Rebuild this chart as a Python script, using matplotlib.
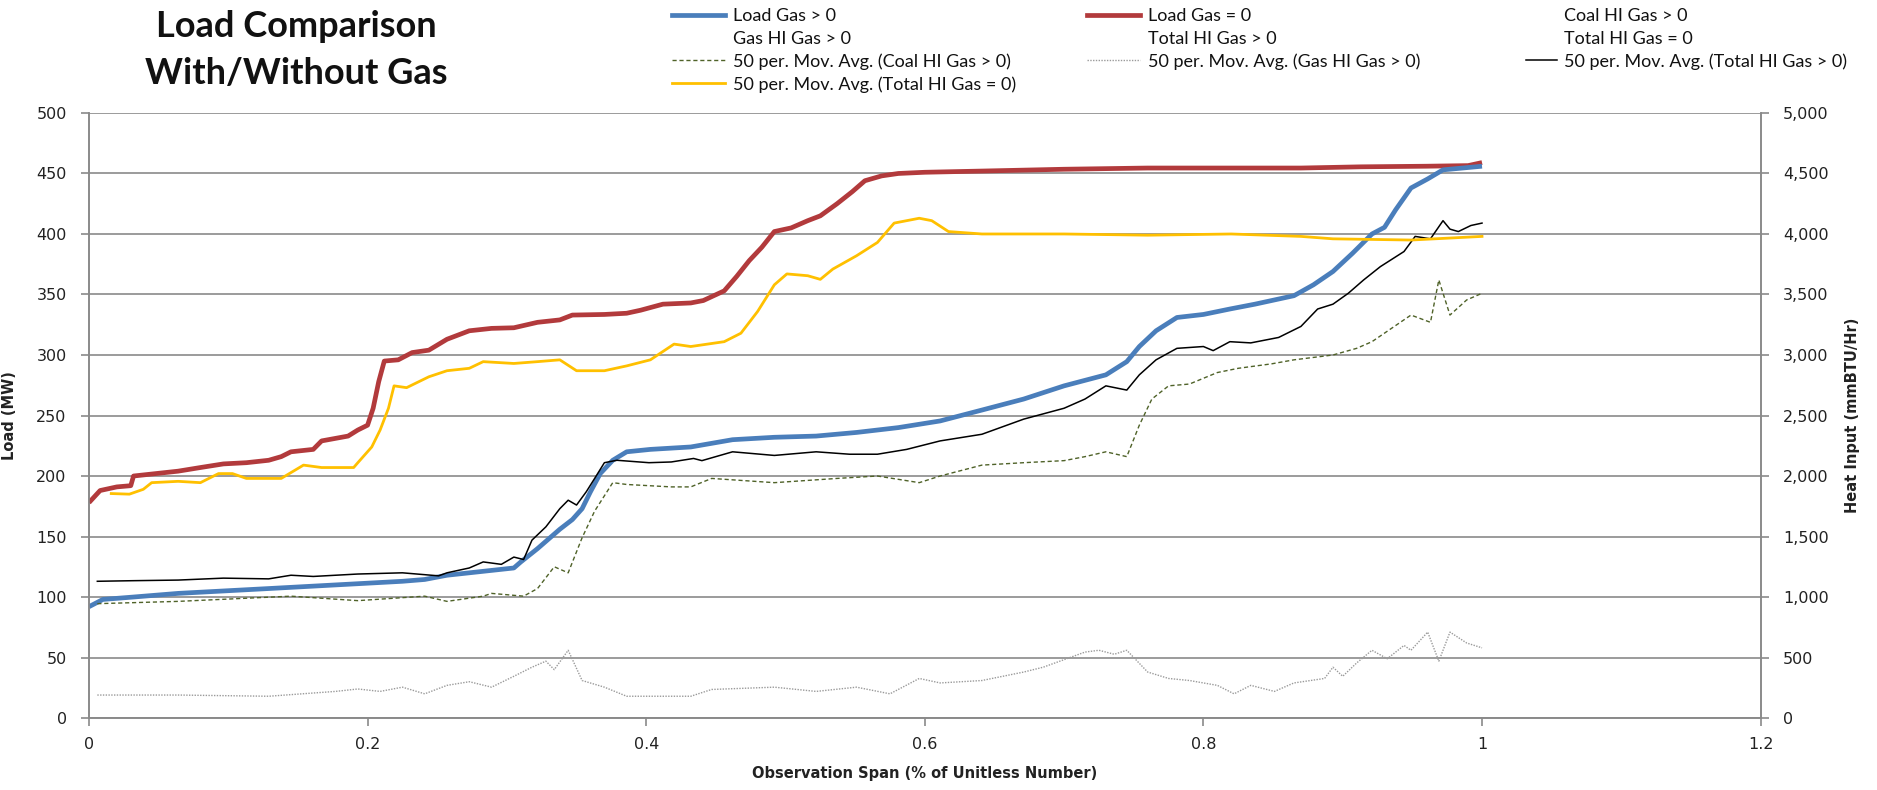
import numpy as np
import matplotlib.pyplot as plt
from matplotlib.lines import Line2D
from matplotlib.ticker import FuncFormatter, MultipleLocator

# ---------------- data ----------------
# Load Gas = 0 (MW)
load_nogas_x = [0.0, 0.008, 0.02, 0.03, 0.032, 0.064, 0.08, 0.0965, 0.113, 0.129, 0.138, 0.145,
                0.161, 0.167, 0.186, 0.193, 0.2, 0.204, 0.208, 0.212, 0.222, 0.232, 0.244, 0.257,
                0.273, 0.289, 0.305, 0.322, 0.338, 0.347, 0.37, 0.386, 0.396, 0.412, 0.432, 0.441,
                0.456, 0.465, 0.474, 0.483, 0.492, 0.504, 0.516, 0.525, 0.537, 0.548, 0.557, 0.569,
                0.581, 0.6, 0.641, 0.7, 0.76, 0.87, 0.913, 0.96, 0.99, 1.0]
load_nogas_y = [178, 188, 191, 192, 200, 204, 207, 210, 211, 213, 216, 220,
                222, 229, 233, 238, 242, 256, 278, 295, 296, 302, 304, 313,
                320, 322, 322.5, 327, 329, 333, 333.5, 334.5, 337, 342, 343, 345,
                353, 365, 378, 389, 402, 405, 411, 415, 425, 435, 444, 448,
                450, 451, 452, 453.5, 454.5, 454.5, 455.5, 456, 456.5, 459]

# Load Gas > 0 (MW)
load_gas_x = [0.0, 0.01, 0.032, 0.064, 0.0965, 0.129, 0.161, 0.193, 0.225, 0.241, 0.257, 0.273,
              0.289, 0.305, 0.31, 0.322, 0.338, 0.347, 0.354, 0.36, 0.367, 0.376, 0.386, 0.403,
              0.432, 0.462, 0.492, 0.522, 0.551, 0.581, 0.611, 0.641, 0.671, 0.7, 0.73, 0.745,
              0.754, 0.766, 0.781, 0.8, 0.819, 0.837, 0.865, 0.879, 0.893, 0.907, 0.921, 0.93,
              0.938, 0.949, 0.961, 0.972, 1.0]
load_gas_y = [92, 98, 100, 103, 105, 107, 109, 111, 113, 114.5, 118, 120,
              122, 124, 129, 140, 156, 164, 173, 187, 202, 213, 220, 222,
              224, 230, 232, 233, 236, 240, 245.5, 254.5, 263.6, 274.5, 283.6, 294.5,
              307, 320, 331, 333.5, 338, 342, 349, 358, 369, 384, 400, 405.5,
              420, 438, 445.5, 453, 456]

# 50 per. Mov. Avg. (Total HI Gas = 0), mmBTU/Hr
ma_total_nogas_x = [0.016, 0.029, 0.039, 0.045, 0.064, 0.08, 0.093, 0.103, 0.113, 0.138, 0.154,
                    0.167, 0.19, 0.193, 0.203, 0.209, 0.215, 0.219, 0.228, 0.244, 0.257, 0.273,
                    0.283, 0.305, 0.322, 0.338, 0.35, 0.37, 0.386, 0.403, 0.42, 0.432, 0.456,
                    0.468, 0.48, 0.492, 0.501, 0.516, 0.525, 0.534, 0.551, 0.566, 0.578, 0.596,
                    0.605, 0.617, 0.641, 0.7, 0.76, 0.82, 0.87, 0.893, 0.949, 1.0]
ma_total_nogas_y = [1855, 1850, 1890, 1945, 1956, 1945, 2020, 2020, 1980, 1980, 2090,
                    2070, 2070, 2110, 2240, 2380, 2560, 2745, 2730, 2820, 2870, 2890,
                    2945, 2930, 2945, 2960, 2870, 2870, 2910, 2960, 3090, 3070, 3110,
                    3180, 3360, 3580, 3670, 3655, 3625, 3710, 3820, 3930, 4090, 4130,
                    4110, 4020, 4000, 4000, 3990, 4000, 3980, 3960, 3950, 3980]

# 50 per. Mov. Avg. (Total HI Gas > 0), mmBTU/Hr
ma_total_gas_x = [0.006, 0.032, 0.064, 0.0965, 0.129, 0.145, 0.161, 0.193, 0.225, 0.251, 0.257,
                  0.273, 0.283, 0.296, 0.305, 0.312, 0.318, 0.328, 0.338, 0.344, 0.35, 0.357,
                  0.363, 0.37, 0.379, 0.402, 0.418, 0.434, 0.44, 0.462, 0.492, 0.522, 0.546,
                  0.566, 0.587, 0.611, 0.641, 0.671, 0.7, 0.715, 0.73, 0.745, 0.754, 0.766,
                  0.781, 0.8, 0.807, 0.819, 0.834, 0.854, 0.87, 0.882, 0.893, 0.904, 0.915,
                  0.927, 0.944, 0.952, 0.963, 0.972, 0.977, 0.983, 0.992, 1.0]
ma_total_gas_y = [1130, 1135, 1140, 1156, 1150, 1180, 1170, 1190, 1200, 1175, 1200,
                  1240, 1290, 1270, 1330, 1310, 1470, 1580, 1730, 1800, 1760, 1870,
                  1980, 2110, 2130, 2110, 2116, 2145, 2127, 2200, 2170, 2200, 2180,
                  2180, 2220, 2290, 2345, 2470, 2560, 2636, 2745, 2710, 2836, 2960,
                  3055, 3070, 3036, 3110, 3100, 3145, 3236, 3380, 3420, 3510, 3620,
                  3730, 3855, 3980, 3960, 4110, 4040, 4020, 4070, 4090]

# 50 per. Mov. Avg. (Coal HI Gas > 0), mmBTU/Hr
ma_coal_x = [0.006, 0.064, 0.145, 0.193, 0.241, 0.257, 0.283, 0.289, 0.312, 0.322, 0.334,
             0.344, 0.354, 0.363, 0.376, 0.386, 0.402, 0.418, 0.432, 0.447, 0.492, 0.537,
             0.566, 0.596, 0.611, 0.641, 0.671, 0.7, 0.715, 0.73, 0.745, 0.754, 0.763,
             0.775, 0.79, 0.81, 0.825, 0.849, 0.865, 0.893, 0.91, 0.921, 0.935, 0.949,
             0.963, 0.969, 0.977, 0.989, 1.0]
ma_coal_y = [945, 964, 1007, 970, 1007, 964, 1007, 1030, 1007, 1070, 1250,
             1200, 1490, 1710, 1945, 1930, 1920, 1910, 1910, 1980, 1945, 1980,
             2000, 1945, 2000, 2090, 2110, 2127, 2160, 2200, 2160, 2420, 2636,
             2745, 2760, 2855, 2890, 2927, 2960, 3000, 3055, 3110, 3220, 3330,
             3270, 3620, 3330, 3455, 3510]

# 50 per. Mov. Avg. (Gas HI Gas > 0), mmBTU/Hr
ma_gashi_x = [0.006, 0.064, 0.129, 0.177, 0.193, 0.209, 0.225, 0.241, 0.257, 0.273, 0.289,
              0.305, 0.318, 0.328, 0.334, 0.344, 0.354, 0.37, 0.386, 0.418, 0.432, 0.447,
              0.492, 0.522, 0.551, 0.575, 0.596, 0.611, 0.641, 0.671, 0.685, 0.715, 0.725,
              0.736, 0.745, 0.76, 0.775, 0.79, 0.81, 0.822, 0.834, 0.851, 0.865, 0.887,
              0.893, 0.9, 0.91, 0.921, 0.932, 0.944, 0.949, 0.961, 0.969, 0.977, 0.989, 1.0]
ma_gashi_y = [190, 190, 180, 220, 240, 220, 255, 200, 270, 300, 255,
              345, 420, 470, 400, 560, 310, 255, 180, 180, 180, 236,
              255, 220, 255, 200, 327, 290, 310, 380, 420, 545, 560,
              527, 560, 380, 327, 310, 270, 200, 270, 220, 290, 327,
              420, 345, 455, 560, 490, 600, 560, 710, 470, 710, 620, 580]

# ---------------- plot ----------------
fig = plt.figure(figsize=(18.77, 7.9), dpi=100)
ax = fig.add_axes([0.0474, 0.0911, 0.8906, 0.7659])
ax2 = ax.twinx()

grid_c = '#8a8a8a'
tick_c = '#222222'

ax.plot(load_gas_x, load_gas_y, color='#4A7EBB', lw=3.4, solid_capstyle='butt', zorder=5)
ax.plot(load_nogas_x, load_nogas_y, color='#B23A3C', lw=3.4, solid_capstyle='butt', zorder=4)
ax2.plot(ma_coal_x, ma_coal_y, color='#4F6228', lw=1.0, ls=(0, (3, 2)))
ax2.plot(ma_gashi_x, ma_gashi_y, color='#9a9a9a', lw=1.0, ls=(0, (1, 1)))
ax2.plot(ma_total_gas_x, ma_total_gas_y, color='black', lw=1.1)
ax2.plot(ma_total_nogas_x, ma_total_nogas_y, color='#FFC000', lw=2.0)

ax.set_xlim(0, 1.2)
ax.set_ylim(0, 500)
ax2.set_ylim(0, 5000)
ax.xaxis.set_major_locator(MultipleLocator(0.2))
ax.yaxis.set_major_locator(MultipleLocator(50))
ax2.yaxis.set_major_locator(MultipleLocator(500))
ax.xaxis.set_major_formatter(FuncFormatter(lambda v, p: f'{v:g}'))
ax2.yaxis.set_major_formatter(FuncFormatter(lambda v, p: f'{v:,.0f}'))

ax.grid(axis='y', color=grid_c, lw=1.2)
ax.set_axisbelow(True)
for a in (ax, ax2):
    a.spines['top'].set_visible(False)
    for s in ('left', 'right', 'bottom'):
        a.spines[s].set_color(grid_c)
        a.spines[s].set_linewidth(1.2)
    a.tick_params(colors=grid_c, labelcolor=tick_c, labelsize=11.5, length=6, width=1.2)
ax.tick_params(axis='x', pad=8)
ax.tick_params(axis='y', pad=10)
ax2.tick_params(axis='y', pad=10)

ax.set_xlabel('Observation Span (% of Unitless Number)', fontsize=10.5, fontweight='bold',
              color=tick_c, labelpad=10)
ax.set_ylabel('Load (MW)', fontsize=10.5, fontweight='bold', color=tick_c, labelpad=14)
ax2.set_ylabel('Heat Input (mmBTU/Hr)', fontsize=10.5, fontweight='bold', color=tick_c,
               labelpad=12)

fig.text(0.158, 0.937, 'Load Comparison\nWith/Without Gas', ha='center', va='center',
         fontsize=26, fontweight='bold', family='Lato', linespacing=1.52, color='#111111')

# legend, laid out the way Excel did it (three columns, row-wise order)
def blank():
    return Line2D([], [], ls='none')

col1 = [(Line2D([], [], color='#4A7EBB', lw=3.4), 'Load Gas > 0'),
        (blank(), 'Gas HI Gas > 0'),
        (Line2D([], [], color='#4F6228', lw=1.0, ls=(0, (3, 2))), '50 per. Mov. Avg. (Coal HI Gas > 0)'),
        (Line2D([], [], color='#FFC000', lw=2.0), '50 per. Mov. Avg. (Total HI Gas = 0)')]
col2 = [(Line2D([], [], color='#B23A3C', lw=3.4), 'Load Gas = 0'),
        (blank(), 'Total HI Gas > 0'),
        (Line2D([], [], color='#9a9a9a', lw=1.0, ls=(0, (1, 1))), '50 per. Mov. Avg. (Gas HI Gas > 0)')]
col3 = [(blank(), 'Coal HI Gas > 0'),
        (blank(), 'Total HI Gas = 0'),
        (Line2D([], [], color='black', lw=1.1), '50 per. Mov. Avg. (Total HI Gas > 0)')]

for items, x0, hl in ((col1, 672, 2.95), (col2, 1087, 2.95), (col3, 1526, 1.7)):
    leg = fig.legend([h for h, _ in items], [t for _, t in items],
                     loc='upper left', bbox_to_anchor=(x0 / 1877, 1 - 8 / 790),
                     frameon=False, prop={'family': 'Lato', 'size': 13},
                     handlelength=hl, handletextpad=0.42, labelspacing=0.36,
                     borderaxespad=0, borderpad=0)
    for t in leg.get_texts():
        t.set_color('#111111')

fig.savefig('out.png', dpi=100, facecolor='white')
